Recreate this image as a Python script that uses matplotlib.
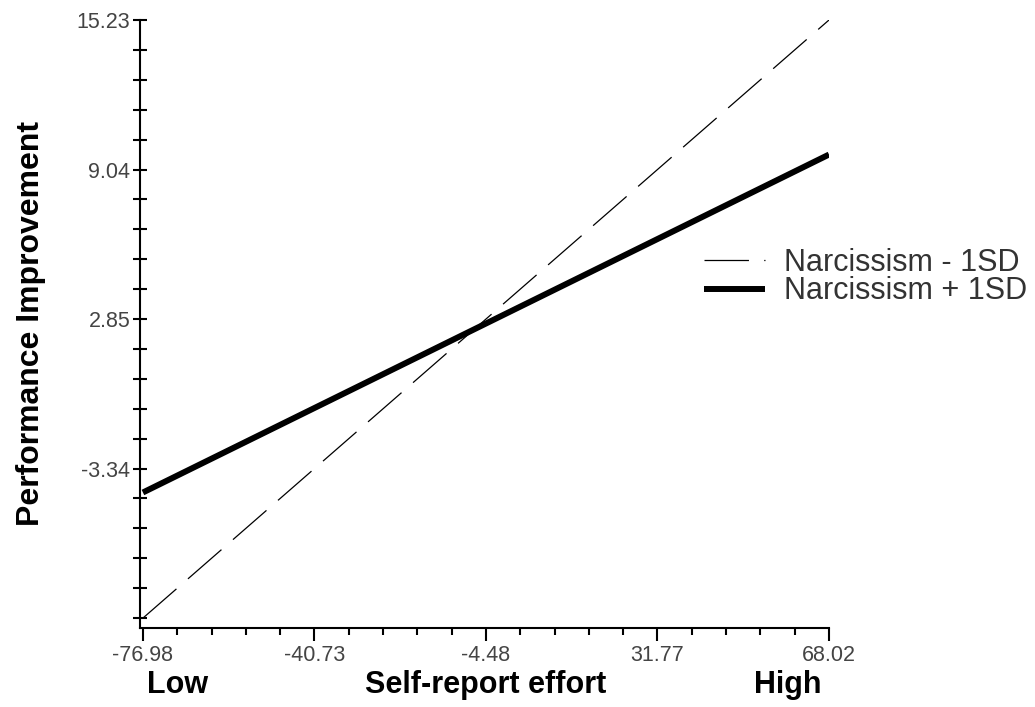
import numpy as np
import matplotlib.pyplot as plt
from matplotlib.ticker import FixedLocator

plt.rcParams['font.family'] = ['Liberation Sans', 'DejaVu Sans']
plt.rcParams['lines.scale_dashes'] = False

# datos
esfuerzo = [-76.98, 68.02]          # Self-report effort (Low -> High)
narc_bajo = [-9.53, 15.23]          # Narcissism - 1SD
narc_alto = [-4.33, 9.66]           # Narcissism + 1SD

xticks = [-76.98, -40.73, -4.48, 31.77, 68.02]
yticks = [-3.34, 2.85, 9.04, 15.23]
ytick_menor = [-9.53 + 1.238 * i for i in range(21)]
xtick_menor = [-76.98 + 7.25 * i for i in range(21)]

fig = plt.figure(figsize=(10.35, 7.07), dpi=100)
ax = fig.add_axes([140 / 1035, 1 - 628 / 707, (829 - 140) / 1035, (628 - 20) / 707])

ax.plot(esfuerzo, narc_bajo, color='black', lw=0.9, dashes=(32, 11),
        label='Narcissism - 1SD')
ax.plot(esfuerzo, narc_alto, color='black', lw=4.3, solid_capstyle='butt',
        label='Narcissism + 1SD')

ax.set_xlim(-77.6, 68.02)
ax.set_ylim(-9.94, 15.23)

for s in ['top', 'right']:
    ax.spines[s].set_visible(False)
for s in ['left', 'bottom']:
    ax.spines[s].set_linewidth(1.5)

ax.set_xticks(xticks)
ax.set_xticklabels([f'{v:.2f}' for v in xticks])
ax.xaxis.set_minor_locator(FixedLocator(xtick_menor))
ax.set_yticks(yticks)
ax.set_yticklabels([f'{v:.2f}' for v in yticks])
ax.yaxis.set_minor_locator(FixedLocator(ytick_menor))

ax.tick_params(axis='x', which='major', direction='out', length=9, width=1.5,
               labelsize=15.5, labelcolor='#444444', pad=3)
ax.tick_params(axis='x', which='minor', direction='out', length=5, width=1.5)
ax.tick_params(axis='y', which='both', direction='inout', length=10, width=1.5,
               labelsize=15.5, labelcolor='#444444', pad=2)

ax.set_ylabel('Performance Improvement', fontsize=23, fontweight='bold', labelpad=22)

# textos bajo el eje x, todos sobre la misma linea base
y_base = 1 - 693 / 707
fig.text(486 / 1035, y_base, 'Self-report effort', fontsize=22,
         fontweight='bold', va='baseline', ha='center')
fig.text(147 / 1035, y_base, 'Low', fontsize=22,
         fontweight='bold', va='baseline', ha='left')
fig.text(821 / 1035, y_base, 'High', fontsize=22,
         fontweight='bold', va='baseline', ha='right')

leg = ax.legend(loc='center left', bbox_to_anchor=(692 / 1035, 1 - 277 / 707),
                bbox_transform=fig.transFigure, frameon=False, fontsize=22,
                handlelength=2.0, handletextpad=0.6, labelspacing=-0.05,
                borderaxespad=0, labelcolor='#333333')

fig.savefig('out.png', dpi=100)
